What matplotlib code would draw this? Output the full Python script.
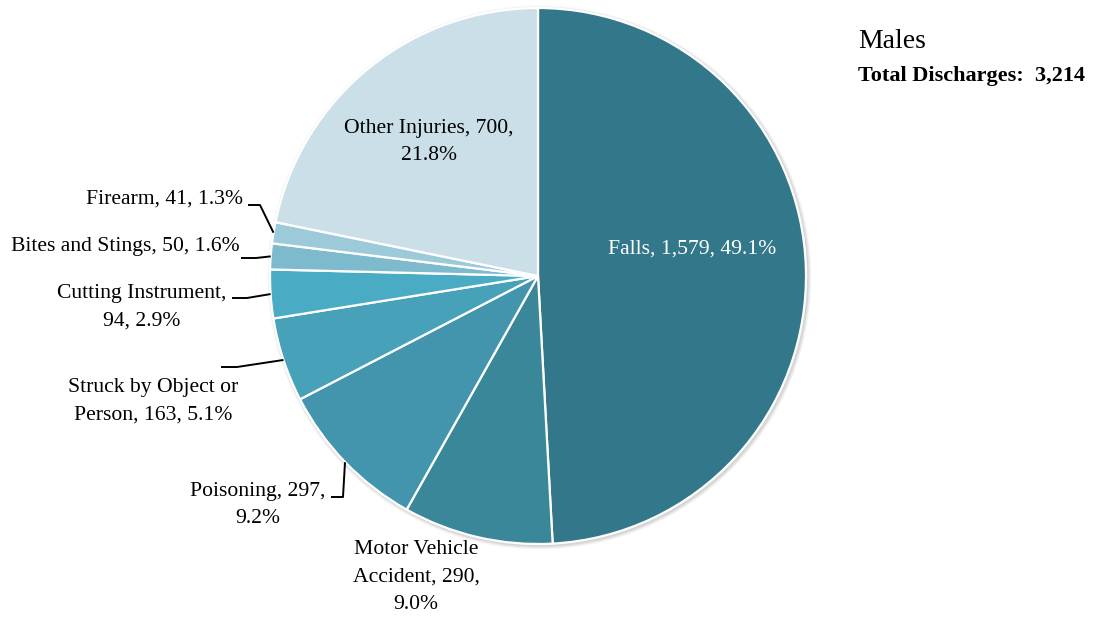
import matplotlib.pyplot as plt
import matplotlib.patches as mpatches
import numpy as np

categories = ['Falls', 'Motor Vehicle Accident', 'Poisoning', 'Struck by Object or Person',
              'Cutting Instrument', 'Bites and Stings', 'Firearm', 'Other Injuries']
counts = [1579, 290, 297, 163, 94, 50, 41, 700]
pcts = [49.1, 9.0, 9.2, 5.1, 2.9, 1.6, 1.3, 21.8]
labels = ['Falls, 1,579, 49.1%',
          'Motor Vehicle\nAccident, 290,\n9.0%',
          'Poisoning, 297,\n9.2%',
          'Struck by Object or\nPerson, 163, 5.1%',
          'Cutting Instrument,\n94, 2.9%',
          'Bites and Stings, 50, 1.6%',
          'Firearm, 41, 1.3%',
          'Other Injuries, 700,\n21.8%']
colors = ['#33788a', '#3a8799', '#4295ad', '#47a1b8', '#4aacc4', '#7dbacd', '#9dcad8', '#cbdfe8']
total = 3214

plt.rcParams['font.family'] = ['Liberation Serif', 'DejaVu Serif']

W, H = 1103, 618
fig = plt.figure(figsize=(W / 100, H / 100), dpi=100)
ax = fig.add_axes([0, 0, 1, 1])

cx, cy, r = 538, H - 276, 268

# soft shadow under the pie
for k, a in enumerate([0.05, 0.05, 0.04, 0.03]):
    ax.add_patch(mpatches.Circle((cx + 1.5, cy - 1.5), r + 1 + k, color='black', alpha=a, lw=0, zorder=0))

wedges, _ = ax.pie(counts, colors=colors, startangle=90, counterclock=False,
                   center=(cx, cy), radius=r, frame=True,
                   wedgeprops=dict(edgecolor='white', linewidth=1.6))
ax.set_xlim(0, W)
ax.set_ylim(0, H)
ax.set_aspect('equal')
ax.axis('off')

fs = 15.6
ls = 1.6

def edge_point(w):
    t = np.deg2rad((w.theta1 + w.theta2) / 2)
    return cx + r * np.cos(t), cy + r * np.sin(t)

# labels inside the pie
ax.text(692, H - 249, labels[0], color='white', fontsize=fs, ha='center', va='center')
ax.text(429, H - 142, labels[7], color='black', fontsize=fs, ha='center', va='center', linespacing=ls)

# motor vehicle label below, no leader
ax.text(416, H - 577, labels[1], color='black', fontsize=fs, ha='center', va='center', linespacing=ls)

# outside labels with leader lines: (text x, text y, ha, line pts before edge)
outside = {
    6: (243, 199, 'right', [(248, 205), (260, 205)]),
    5: (240, 247, 'right', [(241, 258), (256, 258)]),
    4: (142, 307, 'center', [(232, 298), (247, 298)]),
    3: (153, 401, 'center', [(221, 367), (237, 367)]),
    2: (258, 505, 'center', [(331, 497), (343, 497)]),
}
for i, (tx, ty, ha, pts) in outside.items():
    ax.text(tx, H - ty, labels[i], color='black', fontsize=fs, ha=ha, va='center', linespacing=ls)
    ex, ey = edge_point(wedges[i])
    xs = [p[0] for p in pts] + [ex]
    ys = [H - p[1] for p in pts] + [ey]
    if i == 2:
        xs[-1] = xs[-2] + 2
    ax.plot(xs, ys, color='black', lw=1.4, solid_capstyle='butt', zorder=3)

ax.text(858, H - 41, 'Males', fontsize=20, ha='left', va='center')
ax.text(858, H - 76, f'Total Discharges:  {total:,}', fontsize=16, fontweight='bold',
        ha='left', va='center')

fig.savefig('out.png', dpi=100)
